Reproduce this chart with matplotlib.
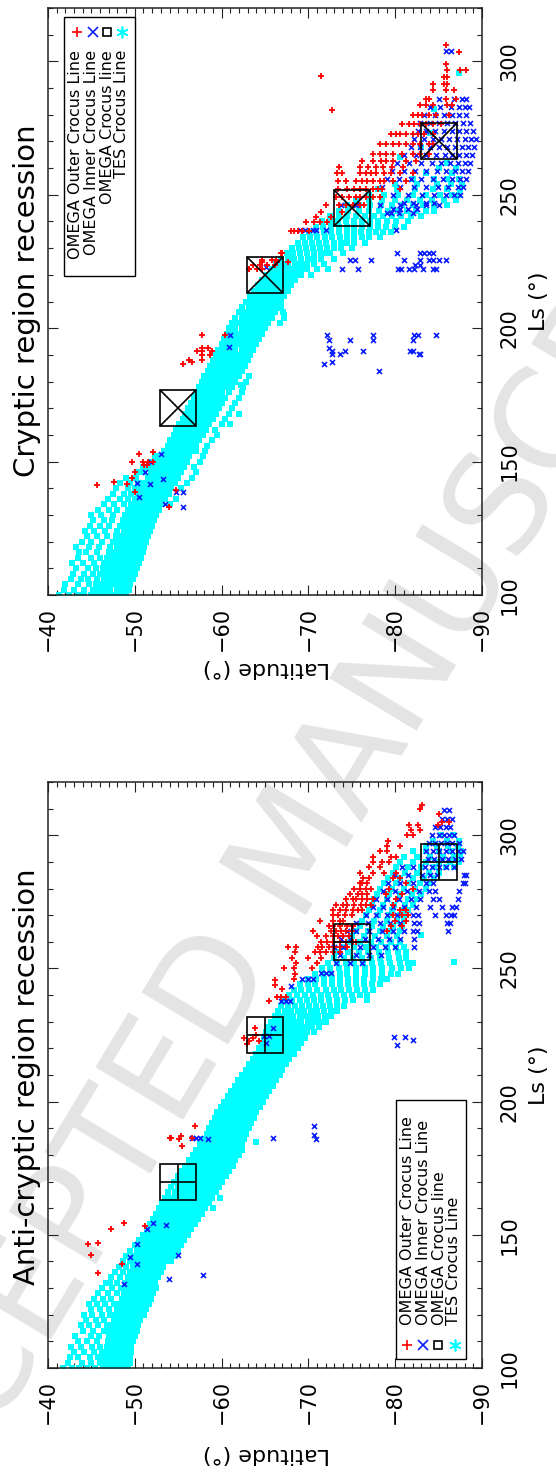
import numpy as np
import matplotlib
matplotlib.use("Agg")
import matplotlib.pyplot as plt
from matplotlib.ticker import MultipleLocator, FixedLocator
from matplotlib.transforms import Affine2D
from matplotlib.lines import Line2D
from matplotlib.patches import Rectangle

plt.rcParams['font.family'] = ['DejaVu Sans']

# ---------------------------------------------------------------- axes / labels
lat_ticks = [-40, -50, -60, -70, -80, -90]
lat_labels = ['\u221240', '\u221250', '\u221260', '\u221270', '\u221280', '\u221290']
ls_ticks = [100, 150, 200, 250, 300]
ls_labels = ['100', '150', '200', '250', '300']
titles = ['Cryptic region recession', 'Anti-cryptic region recession']
xlabel = 'Ls (\u00b0)'
ylabel = 'Latitude (\u00b0)'
legend_labels = ['OMEGA Outer Crocus Line', 'OMEGA Inner Crocus Line',
                 'OMEGA Crocus line', 'TES Crocus Line']

# ---------------------------------------------------------------- TOP panel (Cryptic)
# TES crocus line: rows of Ls with the latitudes read at that Ls
tes_top_ls = [100, 102, 104, 106, 108, 110, 112, 114, 116, 118, 120, 122, 124, 126, 128,
              130, 132, 134, 136, 138, 140, 142, 144, 146, 148, 150, 152, 154, 156, 158,
              160, 162, 164, 166, 168, 170, 172, 174, 176, 178, 180, 182, 184, 186, 188,
              190, 192, 194, 196, 198, 200, 202, 204, 206, 208, 210, 212, 214, 216, 218,
              220, 222, 224, 226, 228, 230, 232, 234, 236, 238, 240, 242, 244, 246, 248,
              250, 252, 254, 256, 258, 260]
tes_top_lat = [
    [-41.3, -42.4, -43.5, -44.2, -45.0, -45.7, -46.3, -47.0, -47.6, -48.3, -49.0],
    [-41.8, -43.0, -44.1, -45.2, -45.9, -46.5, -47.2, -47.9, -48.6, -49.3],
    [-42.0, -43.4, -44.7, -45.5, -46.1, -46.8, -47.5, -48.1, -48.8, -49.5],
    [-42.6, -43.8, -44.6, -45.7, -46.4, -47.0, -47.7, -48.4, -49.1, -49.8],
    [-42.9, -44.1, -45.2, -46.0, -46.6, -47.3, -48.0, -48.6, -49.3, -50.0],
    [-43.2, -44.6, -45.5, -46.3, -46.9, -47.6, -48.2, -48.9, -49.6, -50.2],
    [-42.8, -44.0, -45.3, -46.5, -47.2, -47.8, -48.5, -49.1, -49.8, -50.5],
    [-43.5, -45.0, -46.0, -46.8, -47.4, -48.1, -48.7, -49.4, -50.1, -50.7],
    [-43.6, -44.4, -45.7, -47.0, -47.7, -48.3, -49.0, -49.6, -50.3, -50.9],
    [-43.2, -44.7, -45.9, -47.2, -47.9, -48.5, -49.2, -49.9, -50.5, -51.1],
    [-43.9, -45.0, -46.2, -47.5, -48.2, -48.8, -49.5, -50.1, -50.7, -51.3],
    [-44.5, -45.6, -46.8, -47.8, -48.4, -49.1, -49.7, -50.4, -51.0, -51.5],
    [-44.3, -45.3, -46.6, -48.0, -48.7, -49.3, -50.0, -50.6, -51.2, -51.8],
    [-44.8, -46.0, -47.0, -48.3, -48.9, -49.6, -50.2, -50.8, -51.4, -52.0],
    [-45.2, -46.4, -47.4, -48.6, -49.2, -49.9, -50.5, -51.1, -51.7, -52.2],
    [-45.0, -46.1, -47.5, -48.9, -49.5, -50.1, -50.7, -51.3, -51.9, -52.5],
    [-45.8, -47.0, -48.0, -49.2, -49.8, -50.4, -51.0, -51.6, -52.2, -52.8],
    [-46.4, -47.6, -48.7, -49.6, -50.2, -50.8, -51.4, -52.0, -52.6, -53.1, -54.1],
    [-46.9, -48.3, -49.2, -50.0, -50.6, -51.2, -51.8, -52.4, -53.0, -53.5, -54.8],
    [-47.5, -48.8, -49.6, -50.4, -51.0, -51.6, -52.2, -52.8, -53.4, -53.9],
    [-47.8, -49.2, -50.0, -50.7, -51.3, -51.9, -52.5, -53.1, -53.7, -54.2, -55.3],
    [-48.3, -49.5, -50.4, -51.1, -51.7, -52.3, -52.9, -53.5, -54.1, -54.6, -56.0],
    [-49.0, -50.1, -51.5, -52.1, -52.7, -53.3, -53.9, -54.5, -55.0, -56.6],
    [-50.2, -51.0, -51.9, -52.5, -53.1, -53.7, -54.3, -54.8, -55.3, -57.1],
    [-50.9, -51.6, -52.3, -52.9, -53.5, -54.1, -54.6, -55.2, -55.7, -56.8],
    [-51.8, -52.6, -53.2, -53.8, -54.4, -54.9, -55.5, -56.0, -57.5],
    [-52.3, -53.0, -53.6, -54.2, -54.8, -55.3, -55.8, -56.3, -57.8],
    [-53.4, -54.0, -54.6, -55.1, -55.7, -56.2, -56.7, -57.0, -58.1],
    [-53.8, -54.4, -55.0, -55.5, -56.0, -56.5, -57.0, -58.3],
    [-54.1, -54.7, -55.3, -55.8, -56.3, -56.9, -57.4, -58.9],
    [-54.5, -55.1, -55.6, -56.2, -56.7, -57.3, -57.8, -59.5],
    [-54.8, -55.4, -56.0, -56.5, -57.1, -57.6, -58.2, -59.2],
    [-55.1, -55.7, -56.3, -56.9, -57.5, -58.0, -58.6, -60.0, -61.0],
    [-55.5, -56.1, -56.7, -57.3, -57.8, -58.4, -59.0, -60.4],
    [-55.8, -56.4, -57.0, -57.6, -58.2, -58.8, -59.3, -60.8, -62.0],
    [-56.1, -56.7, -57.3, -57.9, -58.5, -59.1, -59.7, -61.2],
    [-56.5, -57.1, -57.7, -58.3, -58.9, -59.5, -60.0, -61.5],
    [-56.8, -57.4, -58.0, -58.6, -59.2, -59.8, -60.4, -62.0],
    [-57.1, -57.7, -58.3, -58.9, -59.5, -60.1, -60.8, -62.3],
    [-57.4, -58.0, -58.6, -59.2, -59.9, -60.5, -61.2, -62.5],
    [-57.7, -58.3, -59.0, -59.6, -60.3, -60.9, -61.6, -62.8],
    [-58.0, -58.7, -59.3, -60.0, -60.7, -61.3, -62.0, -63.1],
    [-58.4, -59.0, -59.7, -60.3, -61.0, -61.7, -62.4],
    [-58.7, -59.4, -60.0, -60.7, -61.4, -62.0, -62.7],
    [-59.0, -59.7, -60.3, -61.0, -61.7, -62.3, -63.0],
    [-59.3, -60.0, -60.7, -61.3, -62.0, -62.7, -63.3],
    [-59.6, -60.3, -61.0, -61.6, -62.3, -63.0, -63.6],
    [-60.0, -60.7, -61.3, -62.0, -62.7, -63.3, -64.0],
    [-60.3, -61.0, -61.7, -62.3, -63.0, -63.6, -64.3],
    [-60.6, -61.3, -62.0, -62.6, -63.3, -64.0, -64.6],
    [-60.9, -61.6, -62.3, -63.0, -63.6, -64.3, -65.0],
    [-61.2, -61.9, -62.6, -63.3, -64.0, -64.7, -65.4, -66.7],
    [-61.6, -62.3, -63.0, -63.7, -64.4, -65.1, -65.8, -67.2],
    [-62.0, -62.7, -63.4, -64.1, -64.8, -65.5, -66.2, -67.1],
    [-62.4, -63.1, -63.8, -64.5, -65.2, -65.9, -66.5],
    [-62.8, -63.5, -64.2, -64.9, -65.6, -66.3, -66.9],
    [-63.3, -64.0, -64.7, -65.3, -66.0, -66.6, -67.2],
    [-63.7, -64.4, -65.1, -65.7, -66.4, -67.0, -67.6],
    [-64.2, -64.9, -65.5, -66.2, -66.8, -67.4, -68.0],
    [-64.7, -65.4, -66.0, -66.7, -67.3, -67.9, -68.5],
    [-65.2, -65.9, -66.6, -67.3, -67.9, -68.6, -69.2, -70.3],
    [-65.8, -66.5, -67.2, -67.8, -68.5, -69.1, -69.8, -71.0, -72.3],
    [-66.3, -67.0, -67.7, -68.4, -69.1, -69.8, -70.6, -71.8],
    [-66.9, -67.6, -68.3, -69.1, -69.9, -70.7, -71.5, -73.0],
    [-67.5, -68.2, -69.0, -69.8, -70.6, -71.4, -72.1, -72.5, -74.0],
    [-68.1, -68.9, -69.7, -70.5, -71.3, -72.1, -73.0, -73.8, -75.0],
    [-68.8, -69.6, -70.4, -71.2, -72.0, -72.9, -73.7, -74.5, -75.3, -76.5],
    [-69.4, -70.2, -71.0, -71.9, -72.7, -73.6, -74.4, -75.3, -76.2, -77.0, -78.3],
    [-70.1, -70.9, -71.8, -72.6, -73.5, -74.4, -75.3, -76.1, -77.0, -77.8, -78.6, -79.5],
    [-70.9, -71.7, -72.6, -73.5, -74.4, -75.3, -76.2, -77.1, -78.0, -78.9, -80.0, -81.0],
    [-71.6, -72.5, -73.4, -74.3, -75.3, -76.2, -77.1, -78.0, -79.0, -80.1, -81.5],
    [-72.5, -73.5, -74.5, -75.5, -76.5, -77.6, -78.6, -79.6, -80.7, -81.8, -83.0],
    [-73.5, -74.6, -75.8, -77.0, -78.1, -79.2, -80.3, -81.4, -82.4, -83.5, -84.5],
    [-74.5, -75.8, -77.1, -78.4, -79.6, -80.8, -82.0, -83.2, -84.5, -86.0],
    [-75.5, -77.0, -78.5, -80.0, -81.4, -82.8, -84.2, -85.6, -87.0],
    [-77.0, -78.7, -80.3, -82.0, -83.6, -85.2, -86.5, -87.4],
    [-78.0, -80.2, -82.3, -84.4, -86.0, -87.5],
    [-80.0, -82.5, -84.8, -86.4, -87.7],
    [-82.0, -84.5, -86.0, -87.3],
    [-83.5, -86.5],
    [-85.0, -87.0],
]
tes_top_extra_ls = [178.6, 207.5, 205.0, 262.0, 264.0, 268.0, 273.0, 282.0, 295.5]
tes_top_extra_lat = [-62.2, -66.9, -67.2, -86.0, -80.5, -83.0, -84.0, -84.5, -87.4]

# OMEGA outer crocus line (red +)
outer_top_ls = [133.0, 138.7, 139.3, 141.2, 141.7, 142.2, 144.0, 146.2, 148.9, 150.0, 152.7,
                153.7, 186.5, 187.2, 188.0, 190.0, 191.4, 192.6, 197.6, 222.0, 223.5, 224.8,
                225.7, 228.0, 236.4, 239.8, 241.7, 243.6, 246.0, 249.0, 252.0, 255.0, 258.0,
                260.5, 262.5, 265.4, 269.2, 272.9, 276.7, 279.8, 281.9, 283.5, 286.0, 289.1,
                291.6, 294.1, 294.4, 296.6, 299.1, 303.5, 306.0]
outer_top_lat = [
    [-53.9], [-50.0], [-54.7], [-45.6], [-49.1], [-47.6], [-49.7], [-50.0], [-51.1, -51.4],
    [-49.7, -50.9, -51.5, -52.1], [-50.5], [-52.1], [-55.6], [-56.6], [-56.3, -57.7],
    [-57.7, -58.7], [-57.2, -57.7, -58.9], [-57.7, -58.4], [-57.7, -60.4],
    [-63.1, -63.2, -64.1, -64.6], [-63.6, -64.4, -65.2, -66.1], [-64.6, -66.4, -67.6],
    [-64.7, -65.8, -66.3], [-66.9, -67.0],
    [-68.0, -68.3, -68.8, -69.3, -70.1], [-69.7, -70.7, -71.3, -72.2], [-70.9, -72.6],
    [-71.5, -73.9],
    [-72.0, -73.5, -74.3, -75.1, -75.9, -76.4],
    [-73.2, -73.9, -74.7, -75.5, -76.0, -76.6, -77.4, -78.2],
    [-73.4, -74.5, -75.3, -75.9, -76.6, -77.4, -78.0, -78.5, -80.5],
    [-73.4, -74.3, -75.5, -76.2, -76.8, -77.4, -78.2, -78.7, -79.7, -81.2],
    [-73.3, -73.9, -75.9, -76.6, -77.2, -77.8, -78.7, -79.5, -80.6, -82.0],
    [-73.5, -76.0, -76.9, -77.8, -78.6, -79.6, -80.9],
    [-76.2, -77.4, -78.4, -78.9, -79.8, -81.3, -82.4],
    [-77.5, -78.2, -78.9, -79.7, -80.8, -82.0, -82.8, -83.9],
    [-78.2, -78.9, -79.8, -80.4, -81.2, -82.0, -82.9, -83.9, -84.3],
    [-79.5, -80.1, -80.5, -81.2, -82.0, -82.6, -83.3, -84.3],
    [-80.8, -81.6, -82.2, -82.8, -83.6, -84.3, -85.3],
    [-82.0, -82.6, -83.1, -83.9, -84.7, -86.2],
    [-72.7],
    [-82.8, -83.6, -84.3, -86.0, -86.6],
    [-83.6, -83.9, -85.8, -87.0],
    [-84.3, -85.8, -86.8],
    [-84.3, -85.6, -86.0],
    [-85.6, -86.0],
    [-71.5],
    [-86.0, -87.5, -88.1],
    [-85.8], [-87.4], [-85.8],
]

# OMEGA inner crocus line (blue x)
inner_top_ls = [133.1, 134.1, 136.8, 138.7, 141.6, 142.1, 143.3, 146.2, 149.9, 152.7, 184.0,
                186.4, 187.2, 190.4, 191.4, 192.6, 192.9, 195.5, 197.4, 222.0, 222.8, 223.6,
                225.5, 228.0, 236.7, 243.0, 244.5, 246.0, 247.0, 250.0, 253.0, 256.0, 259.0,
                262.0, 265.0, 268.0, 271.0, 274.0, 277.0, 280.0, 283.0, 286.0, 304.0]
inner_top_lat = [
    [-55.6], [-53.5], [-50.5], [-54.8, -55.6], [-51.8], [-50.3], [-53.3], [-51.2], [-51.9],
    [-53.0], [-78.1], [-71.8], [-72.7], [-72.7, -73.6, -82.7, -82.9],
    [-72.7, -74.2, -76.3, -81.7, -82.0], [-72.4], [-60.9], [-72.4, -74.8, -77.5, -82.0],
    [-61.0, -72.1, -77.5, -82.2, -82.6, -84.7],
    [-73.9, -75.7, -80.3, -80.7, -81.6, -82.2, -83.2, -84.3, -84.7], [-65.1], [-82.3, -82.9],
    [-74.8, -75.4, -77.2, -81.0, -82.8, -83.9, -84.4, -85.1, -85.8],
    [-80.2, -82.8, -83.3, -83.9, -84.4],
    [-69.0, -69.6, -70.5, -70.9, -72.0, -80.1],
    [-79.0, -79.5, -80.4, -82.0],
    [-79.8, -80.6, -81.5, -82.5],
    [-73.8, -75.5, -78.2, -80.5, -82.4, -83.5, -85.0],
    [-81.0, -82.0, -83.5, -84.5],
    [-79.8, -81.5, -83.1, -84.5, -85.8, -86.8, -87.5],
    [-78.5, -80.6, -82.2, -83.6, -84.9, -86.1, -87.2, -87.8],
    [-79.0, -80.4, -81.8, -83.0, -84.3, -85.5, -86.6, -87.5, -88.1],
    [-79.6, -81.0, -82.3, -83.6, -84.8, -85.9, -86.9, -87.7, -88.4],
    [-80.2, -81.6, -83.0, -84.2, -85.3, -86.3, -87.2, -88.0, -88.6],
    [-81.0, -82.4, -83.6, -84.7, -85.7, -86.6, -87.4, -88.1, -88.8],
    [-81.8, -82.9, -84.0, -85.0, -86.0, -86.9, -87.7, -88.4, -89.1],
    [-82.2, -83.3, -84.3, -85.3, -86.2, -87.1, -88.0, -88.7, -89.3],
    [-82.6, -83.6, -84.6, -85.6, -86.5, -87.4, -88.2, -89.0],
    [-82.9, -84.0, -85.0, -86.0, -86.9, -87.8, -88.6],
    [-83.3, -84.6, -85.6, -86.5, -87.4, -88.1],
    [-84.0, -85.2, -86.4, -87.3, -88.0, -88.5],
    [-85.0, -86.8, -87.7, -88.2],
    [-85.8, -86.4],
]

# OMEGA crocus line (black boxes)
omega_top_lat = [-55, -65, -75, -85]
omega_top_ls = [170, 220, 245, 270]

# ---------------------------------------------------------------- BOTTOM panel (Anti-cryptic)
tes_bot_ls = [100, 102, 104, 106, 108, 110, 112, 114, 116, 118, 120, 122, 124, 126, 128,
              130, 132, 134, 136, 138, 140, 142, 144, 146, 148, 150, 152, 154, 156, 158,
              160, 162, 164, 166, 168, 170, 172, 174, 176, 178, 180, 182, 184, 186, 188,
              190, 192, 194, 196, 198, 200, 202, 204, 206, 208, 210, 212, 214, 216, 218,
              220, 222, 224, 226, 228, 230, 232, 234, 236, 238, 240, 242, 244, 246, 248,
              250, 252, 254, 256, 258, 260, 262, 264, 266, 268, 270, 272, 274, 276, 278,
              280, 282, 284, 286, 288, 290, 292, 294, 296, 298, 300]
tes_bot_lat = [
    [-41.7, -42.8, -43.6, -44.5, -45.4, -46.3, -46.9, -47.5, -48.1, -48.7, -49.2],
    [-42.3, -43.9, -45.0, -46.0, -46.6, -47.2, -47.8, -48.4, -49.0, -49.4],
    [-42.5, -43.4, -44.8, -45.8, -46.5, -47.1, -47.7, -48.3, -48.9, -49.5],
    [-43.0, -44.2, -45.3, -46.2, -46.7, -47.3, -47.9, -48.5, -49.1, -49.6],
    [-42.6, -43.8, -45.1, -46.0, -46.8, -47.4, -48.0, -48.6, -49.2, -49.6],
    [-43.4, -44.5, -45.6, -46.9, -47.5, -48.1, -48.7, -49.3, -49.8],
    [-43.1, -44.9, -45.9, -47.0, -47.6, -48.2, -48.8, -49.4, -50.0],
    [-44.0, -45.2, -46.4, -47.2, -47.8, -48.4, -49.0, -49.6, -50.2],
    [-43.8, -44.7, -45.8, -46.8, -47.4, -48.0, -48.6, -49.2, -49.8, -50.4],
    [-44.4, -45.5, -46.5, -47.6, -48.2, -48.8, -49.4, -50.0, -50.6],
    [-44.1, -45.1, -46.2, -47.1, -47.7, -48.3, -48.9, -49.5, -50.1, -50.7, -51.1],
    [-45.0, -46.0, -47.0, -47.9, -48.5, -49.1, -49.7, -50.3, -50.9, -51.3],
    [-44.7, -45.6, -46.6, -47.6, -48.2, -48.8, -49.4, -50.0, -50.6, -51.1, -51.6],
    [-45.3, -46.3, -47.3, -48.5, -49.1, -49.7, -50.3, -50.9, -51.4, -51.9],
    [-45.8, -46.9, -47.9, -48.7, -49.3, -49.9, -50.5, -51.1, -51.7, -52.1],
    [-46.2, -47.4, -48.4, -49.0, -49.6, -50.2, -50.8, -51.4, -52.0, -52.4],
    [-46.7, -47.1, -48.0, -48.9, -49.4, -50.0, -50.6, -51.2, -51.8, -52.3],
    [-47.3, -48.3, -49.2, -49.8, -50.4, -51.0, -51.6, -52.2, -52.7],
    [-47.7, -48.6, -49.5, -50.1, -50.7, -51.3, -51.9, -52.5, -53.0],
    [-48.2, -49.0, -49.8, -50.4, -51.0, -51.6, -52.2, -52.8, -53.3],
    [-48.6, -49.4, -50.1, -50.7, -51.3, -51.9, -52.5, -53.1, -53.7, -54.2],
    [-49.0, -49.8, -50.5, -51.1, -51.7, -52.3, -52.9, -53.5, -54.1, -54.6],
    [-49.5, -50.2, -50.8, -51.4, -52.0, -52.6, -53.2, -53.8, -54.4, -55.0],
    [-50.0, -50.7, -51.2, -51.8, -52.4, -53.0, -53.6, -54.2, -54.8, -55.3],
    [-50.5, -51.1, -51.6, -52.2, -52.8, -53.4, -54.0, -54.6, -55.2, -55.7],
    [-51.0, -51.5, -52.0, -52.6, -53.2, -53.8, -54.4, -55.0, -55.6, -56.1],
    [-51.4, -51.9, -52.4, -53.0, -53.6, -54.2, -54.8, -55.4, -56.0, -56.5],
    [-51.8, -52.3, -52.8, -53.4, -54.0, -54.6, -55.2, -55.8, -56.4, -56.9],
    [-52.1, -52.7, -53.2, -53.8, -54.4, -55.0, -55.6, -56.2, -56.8, -57.3],
    [-52.4, -53.0, -53.6, -54.2, -54.8, -55.4, -56.0, -56.6, -57.2, -57.7],
    [-52.8, -53.4, -54.0, -54.6, -55.2, -55.8, -56.4, -57.0, -57.6, -58.1, -59.0],
    [-53.1, -53.8, -54.4, -55.0, -55.6, -56.2, -56.8, -57.4, -58.0, -58.5],
    [-53.5, -54.2, -54.8, -55.4, -56.0, -56.6, -57.2, -57.8, -58.4, -58.9, -59.8],
    [-53.8, -54.6, -55.2, -55.8, -56.4, -57.0, -57.6, -58.2, -58.8, -59.3],
    [-54.2, -55.0, -55.6, -56.2, -56.8, -57.4, -58.0, -58.6, -59.2, -59.7],
    [-54.5, -55.3, -56.0, -56.6, -57.2, -57.8, -58.4, -59.0, -59.6, -60.1],
    [-55.0, -55.7, -56.4, -57.0, -57.6, -58.2, -58.8, -59.4, -60.0, -60.5],
    [-55.4, -56.1, -56.8, -57.4, -58.0, -58.6, -59.2, -59.8, -60.4, -60.9],
    [-55.8, -56.5, -57.2, -57.8, -58.4, -59.0, -59.6, -60.2, -60.8, -61.3],
    [-56.2, -56.9, -57.6, -58.2, -58.8, -59.4, -60.0, -60.6, -61.2, -61.6],
    [-56.7, -57.3, -58.0, -58.6, -59.2, -59.8, -60.4, -61.0, -61.5, -62.0],
    [-57.1, -57.7, -58.4, -59.0, -59.6, -60.2, -60.8, -61.4, -61.9, -62.3],
    [-57.5, -58.1, -58.8, -59.4, -60.0, -60.6, -61.2, -61.8, -62.3],
    [-57.9, -58.5, -59.2, -59.8, -60.4, -61.0, -61.6, -62.2, -62.6],
    [-58.3, -58.9, -59.5, -60.1, -60.7, -61.3, -61.9, -62.4, -62.8],
    [-58.6, -59.2, -59.8, -60.4, -61.0, -61.6, -62.2, -62.7, -63.1],
    [-58.9, -59.5, -60.1, -60.7, -61.3, -61.9, -62.5, -63.0, -63.4],
    [-59.2, -59.8, -60.4, -61.0, -61.6, -62.2, -62.7, -63.2, -63.7],
    [-59.5, -60.1, -60.7, -61.3, -61.9, -62.5, -63.0, -63.5, -64.0],
    [-59.9, -60.5, -61.1, -61.7, -62.3, -62.9, -63.4, -63.9, -64.4],
    [-60.3, -60.9, -61.5, -62.1, -62.7, -63.3, -63.8, -64.3, -64.8],
    [-60.7, -61.3, -61.9, -62.5, -63.1, -63.7, -64.2, -64.7, -65.1],
    [-61.1, -61.7, -62.3, -62.9, -63.5, -64.1, -64.6, -65.1, -65.5],
    [-61.5, -62.1, -62.7, -63.3, -63.9, -64.5, -65.0, -65.5, -65.9],
    [-61.9, -62.5, -63.1, -63.7, -64.3, -64.9, -65.4, -65.9, -66.3],
    [-62.4, -63.0, -63.6, -64.2, -64.8, -65.4, -65.9, -66.3, -66.7],
    [-62.8, -63.4, -64.0, -64.6, -65.2, -65.8, -66.3, -66.7, -67.0],
    [-63.2, -63.8, -64.4, -65.0, -65.6, -66.2, -66.7, -67.1, -67.4],
    [-63.6, -64.2, -64.8, -65.4, -66.0, -66.6, -67.1, -67.5, -67.8],
    [-64.0, -64.6, -65.2, -65.8, -66.4, -67.0, -67.5, -67.9, -68.3],
    [-64.3, -64.9, -65.5, -66.1, -66.7, -67.3, -67.9, -68.4, -68.8],
    [-64.6, -65.2, -65.8, -66.4, -67.0, -67.6, -68.2, -68.8, -69.2],
    [-64.9, -65.5, -66.1, -66.7, -67.3, -67.9, -68.5, -69.1, -69.6],
    [-65.1, -65.7, -66.3, -66.9, -67.5, -68.1, -68.7, -69.3, -69.8, -70.6],
    [-65.4, -66.0, -66.7, -67.3, -68.0, -68.6, -69.2, -69.8, -70.4, -71.2],
    [-65.7, -66.4, -67.1, -67.8, -68.5, -69.2, -69.9, -70.6, -71.3, -72.0],
    [-66.1, -66.8, -67.5, -68.2, -69.0, -69.7, -70.4, -71.1, -71.9, -72.6],
    [-66.5, -67.3, -68.0, -68.8, -69.5, -70.3, -71.0, -71.8, -72.6, -73.3],
    [-66.9, -67.7, -68.5, -69.3, -70.1, -70.9, -71.7, -72.5, -73.3, -74.1],
    [-67.3, -68.1, -69.0, -69.8, -70.7, -71.5, -72.4, -73.3, -74.2, -75.1, -76.8],
    [-67.8, -68.7, -69.6, -70.5, -71.4, -72.3, -73.2, -74.1, -75.0, -75.9, -76.8],
    [-68.3, -69.2, -70.1, -71.0, -72.0, -72.9, -73.8, -74.7, -75.6, -76.5, -77.4],
    [-69.0, -69.9, -70.8, -71.8, -72.7, -73.6, -74.6, -75.5, -76.4, -77.3, -78.2],
    [-70.0, -70.9, -71.8, -72.7, -73.6, -74.6, -75.5, -76.4, -77.4, -78.4, -79.0],
    [-70.8, -71.7, -72.6, -73.6, -74.5, -75.5, -76.5, -77.5, -78.5, -79.5, -80.3],
    [-71.6, -72.5, -73.5, -74.5, -75.5, -76.5, -77.5, -78.5, -79.6, -80.7, -81.6],
    [-72.3, -73.3, -74.3, -75.3, -76.3, -77.3, -78.4, -79.4, -80.5, -81.5, -82.0],
    [-73.0, -74.1, -75.1, -76.2, -77.2, -78.3, -79.3, -80.4, -81.2],
    [-73.4, -74.6, -75.8, -76.9, -78.1, -79.2, -80.3, -81.2],
    [-74.0, -75.3, -76.6, -77.8, -79.0, -80.1, -81.0],
    [-74.6, -75.9, -77.2, -78.4, -79.5, -80.5],
    [-75.0, -76.4, -77.7, -79.0, -80.2],
    [-75.5, -76.9, -78.2, -79.5, -80.6],
    [-75.9, -77.3, -78.6, -79.8, -80.8],
    [-76.2, -77.6, -79.0, -80.2, -81.0],
    [-76.6, -78.0, -79.3, -80.5, -81.2],
    [-77.0, -78.3, -79.6, -80.8, -81.5],
    [-77.3, -78.6, -79.9, -81.1, -82.0],
    [-77.6, -79.0, -80.3, -81.5, -82.5],
    [-77.9, -79.3, -80.6, -81.9, -83.0],
    [-78.2, -79.6, -81.0, -82.3, -83.5],
    [-78.7, -80.1, -81.5, -82.8, -83.9],
    [-79.2, -80.6, -82.0, -83.3, -84.5],
    [-79.7, -81.1, -82.5, -83.9, -85.1],
    [-80.1, -81.5, -83.0, -84.5, -85.8, -86.8],
    [-80.5, -82.0, -83.5, -85.0, -86.3, -87.4],
    [-81.0, -82.5, -84.0, -85.5, -86.8, -87.5],
    [-82.0, -83.5, -85.0, -86.4, -87.6],
    [-83.5, -84.8, -86.1, -87.2],
    [-84.4, -86.0, -87.3],
    [-85.3, -86.7],
]
tes_bot_extra_ls = [252.3, 239.7, 262.5, 185.0]
tes_bot_extra_lat = [-86.8, -76.8, -83.0, -64.0]

outer_bot_ls = [135.7, 139.2, 142.3, 146.4, 146.9, 152.2, 153.3, 154.4, 183.5, 186.0, 186.4,
                187.0, 190.7, 221.8, 222.8, 224.0, 225.0, 227.6, 237.8, 239.3, 242.3, 243.7,
                245.6, 246, 248, 250, 252, 254, 256, 258, 260, 262, 264, 266, 268, 270, 272,
                274, 276, 278, 280, 282, 284, 286, 288, 290, 292, 294, 296, 298, 300, 302,
                304, 305, 308, 310, 311.5]
outer_bot_lat = [
    [-45.8], [-48.5], [-44.9], [-44.6], [-45.8], [-47.3], [-51.2], [-48.8], [-55.4], [-55.1],
    [-54.0, -54.2, -56.6], [-55.3], [-56.9], [-62.9], [-63.2, -64.3], [-62.6, -63.6], [-64.0],
    [-63.8], [-65.5], [-66.4, -66.9, -67.4], [-67.0], [-66.2], [-66.2],
    [-68.3], [-68.5], [-67.2, -68.3, -70.4], [-68.6, -71.0], [-68.1, -70.0, -71.5],
    [-68.4, -70.8, -71.3, -72.0, -72.8, -73.6],
    [-67.6, -68.6, -71.1, -71.6, -72.4, -73.0, -73.6, -74.5],
    [-71.4, -72.2, -72.8, -73.6, -74.3, -75.1, -75.5],
    [-71.0, -72.0, -72.8, -73.4, -74.0, -74.7],
    [-70.5, -72.6, -73.2, -73.8, -74.3, -75.0, -79.0],
    [-72.4, -72.8, -73.6, -74.5, -75.1, -79.5, -80.8],
    [-71.3, -72.8, -73.6, -74.0, -80.0, -81.2],
    [-72.8, -73.4, -74.2, -75.0, -79.7, -80.8, -81.5],
    [-72.8, -73.6, -74.3, -75.1, -75.7, -76.2, -80.5, -81.2],
    [-73.2, -74.0, -74.5, -75.3, -76.1, -76.6, -77.2, -79.7],
    [-74.3, -75.1, -75.5, -76.2, -76.8, -77.4, -80.1],
    [-74.8, -75.7, -76.2, -76.8, -78.9, -80.8],
    [-75.3, -75.9, -76.6, -77.2, -79.3, -82.0],
    [-75.9, -76.2, -76.8, -81.2],
    [-76.3, -77.0, -79.7, -80.5],
    [-75.9, -77.4, -78.7, -80.1],
    [-77.0, -78.2],
    [-77.5, -78.5, -79.3],
    [-77.4, -79.5, -80.1],
    [-78.2, -79.1],
    [-79.1, -80.5],
    [-79.2],
    [-81.4, -82.0],
    [-81.8, -82.8],
    [-81.6, -82.6, -84.9],
    [-85.4, -86.2],
    [-85.0], [-82.9], [-83.1],
]

inner_bot_ls = [131.7, 133.6, 134.8, 139.0, 141.7, 142.3, 146.7, 152.3, 153.8, 154.5, 185.8,
                186.0, 186.4, 187.4, 190.7, 221.3, 222.2, 223.0, 224.1, 224.7, 227.8, 237.8,
                243.4, 246.0, 248.3, 252, 255, 258, 261, 264, 267, 270, 273, 276, 279, 282,
                285, 288, 291, 294, 297, 300, 303, 306, 309.5]
inner_bot_lat = [
    [-48.8], [-53.9], [-57.8], [-50.3], [-49.4], [-55.0], [-50.3], [-51.4], [-53.6], [-52.1],
    [-58.4], [-70.9], [-56.6, -57.0, -57.5, -65.9], [-70.6], [-70.6], [-80.2], [-65.1],
    [-82.0], [-79.9, -81.1], [-64.9, -65.5], [-65.9], [-66.9, -67.4, -67.9], [-68.0],
    [-69.3, -69.9, -70.5], [-71.5, -72.0, -72.6],
    [-73.2, -74.8, -76.2],
    [-73.6, -75.5, -77.0, -78.4],
    [-73.0, -74.0, -76.0, -77.5, -78.8, -80.0, -82.2],
    [-73.8, -74.8, -76.5, -78.0, -79.3, -80.6, -82.2],
    [-74.4, -75.5, -77.0, -78.5, -79.8, -81.0, -82.0, -82.5, -86.1],
    [-75.5, -76.9, -78.2, -79.4, -80.5, -82.2, -82.7, -86.0, -86.3],
    [-76.6, -77.8, -79.0, -80.2, -82.0, -82.6, -84.6, -85.9, -86.4, -86.8],
    [-77.5, -78.6, -79.8, -81.0, -82.4, -84.0, -85.4, -86.6, -87.0],
    [-77.8, -79.0, -80.4, -81.8, -82.8, -84.3, -85.0, -87.2],
    [-78.6, -80.0, -81.4, -82.7, -83.9, -84.6, -87.4],
    [-79.2, -80.6, -82.1, -83.6, -84.4, -87.8, -88.0],
    [-80.0, -81.5, -83.1, -84.0, -84.8, -87.9, -88.2],
    [-80.8, -82.0, -83.4, -84.2, -85.0, -85.9, -86.8],
    [-83.8, -84.5, -85.4, -86.1, -86.9, -87.6],
    [-83.6, -84.4, -85.1, -85.8, -86.5, -87.2, -87.8],
    [-83.9, -84.6, -85.3, -86.0, -86.6, -87.3],
    [-84.2, -85.0, -85.6, -86.2, -86.8],
    [-84.6, -85.2, -85.8, -86.3],
    [-85.4, -86.0, -86.5],
    [-85.6, -86.2],
]

omega_bot_lat = [-55, -65, -75, -85]
omega_bot_ls = [170, 225, 260, 290]

# ---------------------------------------------------------------- helpers
def expand(ls_rows, lat_rows, extra_ls=(), extra_lat=()):
    ls, lat = [], []
    for v, row in zip(ls_rows, lat_rows):
        ls += [v] * len(row)
        lat += list(row)
    ls += list(extra_ls)
    lat += list(extra_lat)
    return np.array(lat, float), np.array(ls, float)

W, H = 556, 1473
fig = plt.figure(figsize=(W / 100, H / 100), dpi=100)
fig.patch.set_facecolor('white')
PIX = Affine2D().scale(1.0 / W, -1.0 / H).translate(0, 1) + fig.transFigure

CYAN = '#00ffff'
RED = '#ff0000'
BLUE = '#0a1eff'

# watermark
fig.text(300, 850, 'ACCEPTED MANUSCRIPT', transform=PIX, rotation=59, fontsize=100,
         color='#e4e4e4', ha='center', va='center', zorder=-10)


def make_axes(y0, y1):
    ax = fig.add_axes([48 / W, 1 - y1 / H, 434 / W, (y1 - y0) / H])
    ax.set_facecolor('none')
    ax.set_xlim(-40, -90)
    ax.set_ylim(100, 320)
    ax.xaxis.set_major_locator(FixedLocator(lat_ticks))
    ax.xaxis.set_minor_locator(MultipleLocator(1))
    ax.yaxis.set_major_locator(FixedLocator(ls_ticks))
    ax.yaxis.set_minor_locator(MultipleLocator(10))
    ax.tick_params(which='both', direction='in', top=True, bottom=True, left=True,
                   right=True, labelleft=False, labelright=True, labelbottom=True,
                   labeltop=False, width=0.8, color='#222222')
    ax.tick_params(which='major', length=7.5)
    ax.tick_params(which='minor', length=3.6)
    ax.tick_params(axis='x', pad=8.5, labelsize=15)
    ax.tick_params(axis='y', pad=12.5, labelsize=15)
    ax.set_xticklabels(lat_labels, rotation=90, ha='center', va='top')
    ax.set_yticklabels(ls_labels, rotation=90, va='center')
    for t in ax.yaxis.get_major_ticks():
        t.label2.set_rotation(90)
        t.label2.set_va('center')
        t.label2.set_ha('left')
    for s in ax.spines.values():
        s.set_linewidth(1.1)
        s.set_color('#222222')
    return ax


def draw_panel(ax, tes, outer, inner, omega_lat, omega_ls, cross):
    ax.plot(tes[0], tes[1], ls='none', marker='s', ms=4.6, mew=0, color=CYAN, zorder=2)
    ax.plot(inner[0], inner[1], ls='none', marker='x', ms=3.6, mew=1.2, color=BLUE, zorder=3)
    ax.plot(outer[0], outer[1], ls='none', marker='+', ms=4.4, mew=1.3, color=RED, zorder=4)
    ax.plot(omega_lat, omega_ls, ls='none', marker='s', ms=26, mfc='none', mec='black',
            mew=1.2, zorder=5)
    ax.plot(omega_lat, omega_ls, ls='none', marker=cross, ms=26, mec='black', mew=1.2,
            zorder=5)


# ---- top panel
ax1 = make_axes(8, 595)
draw_panel(ax1,
           expand(tes_top_ls, tes_top_lat, tes_top_extra_ls, tes_top_extra_lat),
           expand(outer_top_ls, outer_top_lat),
           expand(inner_top_ls, inner_top_lat),
           omega_top_lat, omega_top_ls, 'x')

# ---- bottom panel
ax2 = make_axes(782, 1368)
draw_panel(ax2,
           expand(tes_bot_ls, tes_bot_lat, tes_bot_extra_ls, tes_bot_extra_lat),
           expand(outer_bot_ls, outer_bot_lat),
           expand(inner_bot_ls, inner_bot_lat),
           omega_bot_lat, omega_bot_ls, '+')

# ---- titles and axis labels
fig.text(27, 301, titles[0], transform=PIX, rotation=90, ha='center', va='center', fontsize=21)
fig.text(27, 1077, titles[1], transform=PIX, rotation=90, ha='center', va='center', fontsize=21)
for yc in (301, 1075):
    fig.text(539, yc, xlabel, transform=PIX, rotation=90, ha='center', va='center', fontsize=16)
for yc in (668, 1454):
    fig.text(266, yc, ylabel, transform=PIX, rotation=180, ha='center', va='center', fontsize=16)

# ---- legends
leg_markers = [dict(marker='+', ms=7.5, mew=1.2, color=RED),
               dict(marker='x', ms=6.5, mew=1.2, color=BLUE),
               dict(marker='s', ms=6.0, mew=1.2, mfc='none', mec='black', color='black'),
               dict(marker=(6, 2, 0), ms=8.5, mew=1.2, color=CYAN)]

def legend(box, text_x, text_y, va, mark_x, mark_y):
    x0, y0, x1, y1 = box
    fig.add_artist(Rectangle((x0, y0), x1 - x0, y1 - y0, transform=PIX, fc='white',
                             ec='black', lw=1.0, zorder=20))
    for lab, tx, mx, st in zip(legend_labels, text_x, mark_x, leg_markers):
        fig.text(tx, text_y, lab, transform=PIX, rotation=90, ha='center', va=va,
                 fontsize=11.5, zorder=21)
        fig.add_artist(Line2D([mx], [mark_y], transform=PIX, ls='none', zorder=21, **st))

legend((64, 17, 135, 276), [75, 91, 107, 122], 50, 'top', [77, 93, 107, 122], 32)
legend((396, 1100, 466, 1359), [408, 424, 439, 454], 1325, 'bottom', [407, 423, 438, 455], 1345)

fig.savefig('out.png', dpi=100, facecolor='white')
